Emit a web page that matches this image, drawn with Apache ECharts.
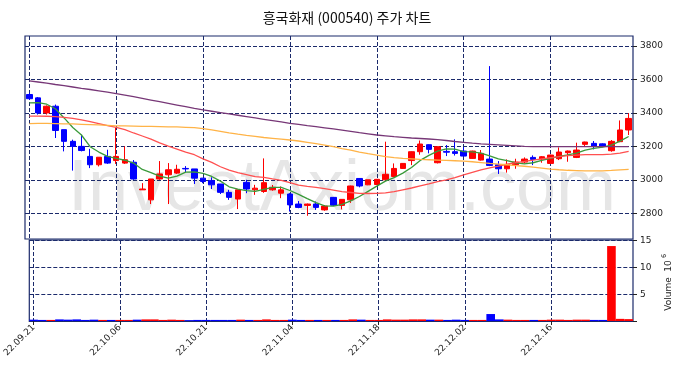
<!DOCTYPE html>
<html><head><meta charset="utf-8">
<script src="https://cdn.jsdelivr.net/npm/echarts@6/dist/echarts.min.js"></script>
<style>html,body{margin:0;padding:0;background:#fff}#c{width:686px;height:378px}</style>
</head><body><div id="c"></div>
<script>
const dates = [
'22.09.21','22.09.22','22.09.23','22.09.26','22.09.27','22.09.28','22.09.29','22.09.30',
'22.10.04','22.10.05','22.10.06','22.10.07','22.10.11','22.10.12','22.10.13','22.10.14','22.10.17','22.10.18','22.10.19','22.10.20','22.10.21','22.10.24','22.10.25','22.10.26','22.10.27','22.10.28','22.10.31',
'22.11.01','22.11.02','22.11.03','22.11.04','22.11.07','22.11.08','22.11.09','22.11.10','22.11.11','22.11.14','22.11.15','22.11.16','22.11.17','22.11.18','22.11.21','22.11.22','22.11.23','22.11.24','22.11.25','22.11.28','22.11.29','22.11.30',
'22.12.01','22.12.02','22.12.05','22.12.06','22.12.07','22.12.08','22.12.09','22.12.12','22.12.13','22.12.14','22.12.15','22.12.16','22.12.19','22.12.20','22.12.21','22.12.22','22.12.23','22.12.26','22.12.27','22.12.28','22.12.29'];
const opens = [3510,3490,3400,3440,3300,3230,3200,3140,3090,3140, 3115,3100,3105,2940,2880,3005,3030,3040,3068,3065, 3010,2995,2975,2925,2885,2985,2940,2930,2940,2920, 2915,2855,2847,2855,2820,2895,2847,2880,3008,2970, 2972,3000,3020,3068,3115,3168,3210,3102,3170,3168, 3172,3128,3118,3124,3090,3066,3090,3106,3134,3124, 3098,3126,3162,3134,3212,3218,3215,3174,3228,3298];
const closes = [3485,3400,3440,3295,3230,3200,3175,3090,3135,3100, 3140,3120,3005,2945,3005,3035,3060,3063,3065,3010, 2990,2970,2925,2895,2940,2945,2950,2983,2955,2940, 2850,2835,2855,2835,2843,2848,2883,2963,2963,3000, 3003,3033,3068,3098,3168,3214,3182,3198,3165,3158, 3142,3172,3158,3086,3066,3092,3106,3124,3122,3138, 3148,3166,3172,3178,3226,3200,3202,3230,3298,3367];
const lows = [3478,3390,3390,3250,3170,3055,3170,3070,3080,3095, 3095,3095,3000,2940,2855,3000,2855,3035,3045,2975, 2980,2945,2915,2880,2825,2920,2910,2922,2935,2890, 2810,2830,2785,2820,2815,2843,2823,2862,2955,2968, 2970,2998,3015,3065,3088,3150,3158,3098,3142,3145, 3140,3126,3115,3082,3035,3043,3066,3098,3088,3102, 3095,3118,3108,3130,3198,3182,3195,3168,3225,3268];
const highs = [3520,3495,3445,3450,3300,3240,3270,3185,3135,3180, 3310,3200,3118,2980,3005,3112,3100,3090,3082,3065, 3010,3015,2975,2940,2940,3000,2970,3128,2969,2960, 2920,2873,2858,2870,2848,2897,2885,2965,3010,3000, 3005,3228,3098,3100,3170,3235,3212,3200,3208,3242, 3195,3174,3178,3680,3112,3122,3126,3134,3146,3142, 3150,3194,3175,3222,3228,3232,3218,3238,3355,3398];
const volumes = [0.25,0.2,0.2,0.3,0.25,0.3,0.2,0.25,0.2,0.2, 0.2,0.2,0.25,0.3,0.3,0.2,0.25,0.2,0.15,0.2, 0.2,0.2,0.2,0.2,0.25,0.2,0.2,0.3,0.2,0.2, 0.25,0.2,0.2,0.2,0.2,0.2,0.2,0.3,0.25,0.2, 0.2,0.3,0.25,0.25,0.3,0.3,0.25,0.25,0.2,0.25, 0.2,0.2,0.2,1.3,0.3,0.25,0.2,0.2,0.2,0.2, 0.25,0.25,0.2,0.25,0.25,0.2,0.2,14.0,0.4,0.35];
const ma5 = [3460,3461,3452,3425,3370,3313,3268,3198,3166,3140, 3128,3117,3100,3062,3043,3022,3010,3022,3046,3047, 3038,3020,2992,2958,2944,2935,2931,2943,2955,2955, 2936,2913,2887,2863,2844,2843,2853,2874,2900,2931, 2962,2992,3013,3040,3074,3116,3146,3172,3185,3183, 3169,3167,3159,3143,3125,3115,3102,3095,3102,3116, 3128,3140,3149,3160,3178,3188,3196,3207,3231,3259];
const ma20 = [3381,3381,3380,3378,3373,3367,3358,3348,3336,3324, 3314,3300,3280,3262,3243,3221,3202,3184,3165,3150, 3125,3104,3078,3058,3043,3031,3019,3014,3005,2997, 2983,2968,2961,2955,2947,2938,2929,2924,2919,2918, 2919,2922,2929,2940,2951,2964,2976,2989,3000,3013, 3030,3045,3060,3072,3082,3093,3103,3110,3118,3125, 3132,3139,3144,3148,3151,3150,3151,3153,3159,3170];
const ma60 = [3336,3337,3337,3336,3335,3334,3332,3330,3328,3326, 3323,3322,3321,3320,3319,3318,3317,3316,3314,3312, 3306,3298,3290,3281,3273,3266,3260,3253,3248,3243, 3238,3232,3224,3216,3208,3198,3186,3177,3166,3156, 3148,3139,3133,3128,3125,3122,3120,3118,3116,3114, 3112,3108,3103,3098,3094,3090,3085,3081,3076,3070, 3064,3060,3057,3055,3053,3053,3054,3056,3059,3062];
const ma120 = [3592,3585,3578,3570,3563,3555,3547,3540,3532,3524, 3516,3507,3497,3487,3477,3467,3457,3447,3437,3427, 3418,3410,3402,3394,3386,3378,3370,3362,3354,3346, 3338,3331,3324,3318,3311,3304,3297,3290,3282,3275, 3268,3263,3258,3254,3250,3247,3244,3240,3235,3229, 3224,3219,3215,3212,3209,3206,3203,3200,3199,3198, 3198,3198,3198,3198,3198,3198,3198,3198,3198,3198];
const priceTicks = [2800,3000,3200,3400,3600,3800];
const titleText = '흥국화재 (000540) 주가 차트';

const UP = '#ff0000', DOWN = '#0000ff';
const NAVY = '#1b2a6b';
const candle = dates.map((d, i) => [opens[i], closes[i], lows[i], highs[i]]);
const vol = volumes.map((v, i) => ({value: v, itemStyle: {color: closes[i] >= opens[i] ? UP : DOWN}}));
const dash = {color: NAVY, type: [4, 2], width: 1};
const tickFont = {fontFamily: 'DejaVu Sans', fontSize: 9, color: '#222'};

const chart = echarts.init(document.getElementById('c'), null, {renderer: 'canvas'});
function mkLine(name, data, color) {
  return {name, type: 'line', data, xAxisIndex: 0, yAxisIndex: 0, showSymbol: false, symbol: 'none',
    lineStyle: {color, width: 1.3}, itemStyle: {color}, z: 3, silent: true};
}
chart.setOption({
  animation: false,
  backgroundColor: '#fff',
  graphic: [
    {type: 'text', x: 347, y: 18, z: 10, style: {text: titleText, font: '14px "Noto Sans CJK KR"', fill: '#111', textAlign: 'center', textVerticalAlign: 'middle'}},
    {type: 'text', x: 342, y: 190, z: -100, style: {text: 'InvestAxiom.com', font: '72px "Liberation Sans"', fill: '#e6e6e6', textAlign: 'center', textVerticalAlign: 'middle'}},
    {type: 'text', x: 669, y: 294, rotation: Math.PI / 2, style: {text: 'Volume', font: '9px "DejaVu Sans"', fill: '#222', textAlign: 'center', textVerticalAlign: 'middle'}},
    {type: 'text', x: 669, y: 266, rotation: Math.PI / 2, style: {text: '10', font: '9px "DejaVu Sans"', fill: '#222', textAlign: 'center', textVerticalAlign: 'middle'}},
    {type: 'text', x: 664, y: 256, rotation: Math.PI / 2, style: {text: '6', font: '6.5px "DejaVu Sans"', fill: '#222', textAlign: 'center', textVerticalAlign: 'middle'}}
  ],
  grid: [
    {left: 25, top: 36, width: 608, height: 203, show: true, borderColor: NAVY, borderWidth: 1.2, backgroundColor: 'transparent'},
    {left: 25, top: 240, width: 608, height: 81, show: true, borderColor: NAVY, borderWidth: 1.2, backgroundColor: 'transparent'}
  ],
  xAxis: [
    {type: 'category', gridIndex: 0, data: dates, boundaryGap: true,
      axisLine: {show: false}, axisTick: {show: false}, axisLabel: {show: false},
      splitLine: {show: true, interval: 9, alignWithLabel: true, lineStyle: dash}},
    {type: 'category', gridIndex: 1, data: dates, boundaryGap: true,
      axisLine: {show: true, lineStyle: {color: NAVY, width: 1.2}},
      axisTick: {show: true, interval: 9, alignWithLabel: true, length: 4, lineStyle: {color: '#222'}},
      axisLabel: Object.assign({interval: 9, rotate: 45, margin: 5}, tickFont),
      splitLine: {show: true, interval: 9, alignWithLabel: true, lineStyle: dash}}
  ],
  yAxis: [
    {type: 'value', gridIndex: 0, position: 'right', min: 2646, max: 3860, scale: true,
      axisLine: {show: false},
      axisTick: {show: true, length: 4, customValues: priceTicks, lineStyle: {color: '#222'}},
      axisLabel: Object.assign({margin: 7, customValues: priceTicks, formatter: v => String(v)}, tickFont),
      splitLine: {show: true, lineStyle: dash}},
    {type: 'value', gridIndex: 1, position: 'right', min: 0, max: 15.13, interval: 5,
      axisLine: {show: false},
      axisTick: {show: true, length: 4, lineStyle: {color: '#222'}},
      axisLabel: Object.assign({margin: 7, formatter: v => v === 0 ? '' : String(v)}, tickFont),
      splitLine: {show: true, lineStyle: dash}}
  ],
  series: [
    {type: 'candlestick', xAxisIndex: 0, yAxisIndex: 0, data: candle, barWidth: 6, z: 2, silent: true,
      itemStyle: {color: UP, color0: DOWN, borderColor: UP, borderColor0: DOWN, borderColorDoji: UP, borderWidth: 1}},
    mkLine('MA5', ma5, '#3a9a3a'),
    mkLine('MA20', ma20, '#ff5050'),
    mkLine('MA60', ma60, '#ffb347'),
    mkLine('MA120', ma120, '#773777'),
    {type: 'bar', xAxisIndex: 1, yAxisIndex: 1, data: vol, barWidth: '100%', silent: true}
  ]
});
</script>
</body></html>
